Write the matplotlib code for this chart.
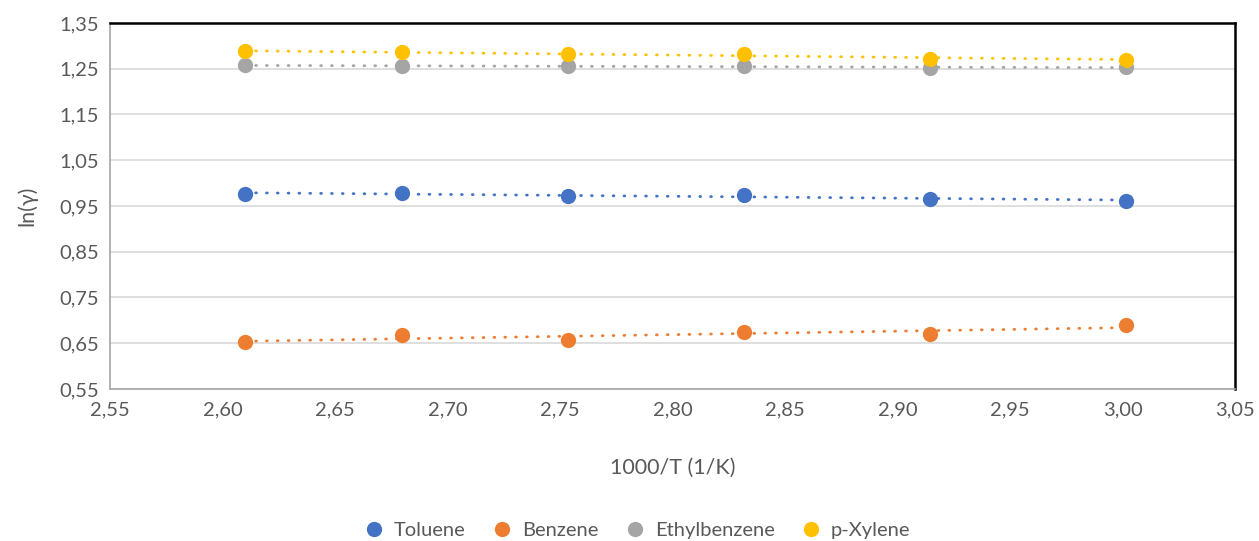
import matplotlib.pyplot as plt
import numpy as np
from matplotlib.ticker import FuncFormatter, MultipleLocator
from matplotlib.lines import Line2D

plt.rcParams['font.family'] = ['Lato', 'DejaVu Sans']

# 1000/T values (1/K)
inv_t = [2.6099, 2.6799, 2.7537, 2.8317, 2.9142, 3.0017]

# ln(gamma) per solute
toluene = [0.9756, 0.9790, 0.9719, 0.9740, 0.9660, 0.9610]
benzene = [0.6537, 0.6675, 0.6570, 0.6740, 0.6700, 0.6900]
ethylbenzene = [1.2572, 1.2570, 1.2550, 1.2550, 1.2515, 1.2536]
p_xylene = [1.2878, 1.2865, 1.2820, 1.2820, 1.2719, 1.2697]

names = ["Toluene", "Benzene", "Ethylbenzene", "p-Xylene"]
colors = ["#4472C4", "#ED7D31", "#A5A5A5", "#FFC000"]
series = [toluene, benzene, ethylbenzene, p_xylene]

TEXT = "#595959"

fig = plt.figure(figsize=(12.59, 5.41), dpi=100)
ax = fig.add_axes([0.0874, 0.281, 0.981 - 0.0874, 0.9575 - 0.281])

x = np.array(inv_t)
for name, col, ys in zip(names, colors, series):
    ax.plot(x, ys, 'o', color=col, markersize=11, markeredgewidth=0,
            label=name, zorder=3)
    # linear trendline like Excel
    k, b = np.polyfit(x, ys, 1)
    ax.plot([x[0], x[-1]], [k * x[0] + b, k * x[-1] + b], color=col,
            lw=2.0, linestyle=(0, (0.3, 3.6)), dash_capstyle='round',
            zorder=4)

ax.set_xlim(2.55, 3.05)
ax.set_ylim(0.55, 1.35)
ax.xaxis.set_major_locator(MultipleLocator(0.05))
ax.set_yticks(np.arange(0.55, 1.351, 0.10))
fmt = FuncFormatter(lambda v, p: ("%.2f" % v).replace(".", ","))
ax.xaxis.set_major_formatter(fmt)
ax.yaxis.set_major_formatter(fmt)

ax.grid(axis='y', color='#D9D9D9', lw=1.2)
ax.set_axisbelow(True)
ax.tick_params(length=0, labelsize=14.5, colors=TEXT, pad=8)
ax.tick_params(axis='x', pad=9)

ax.spines['left'].set_color('#A6A6A6')
ax.spines['bottom'].set_color('#A6A6A6')
ax.spines['left'].set_linewidth(1.2)
ax.spines['bottom'].set_linewidth(1.2)
ax.spines['top'].set_color('black')
ax.spines['right'].set_color('black')
ax.spines['top'].set_linewidth(1.8)
ax.spines['right'].set_linewidth(1.8)

ax.set_xlabel("1000/T (1/K)", fontsize=15.5, color=TEXT, labelpad=28)
ax.set_ylabel("ln(γ)", fontsize=15.5, color=TEXT, labelpad=16)

handles = [Line2D([], [], marker='o', ls='', color=c, markersize=11,
                  markeredgewidth=0) for c in colors]
fig.legend(handles, names, loc='lower center', bbox_to_anchor=(0.502, -0.03),
           ncol=4, frameon=False, fontsize=14.5, handletextpad=0.0,
           columnspacing=0.8, labelcolor=TEXT)

fig.savefig("out.png", dpi=100)
